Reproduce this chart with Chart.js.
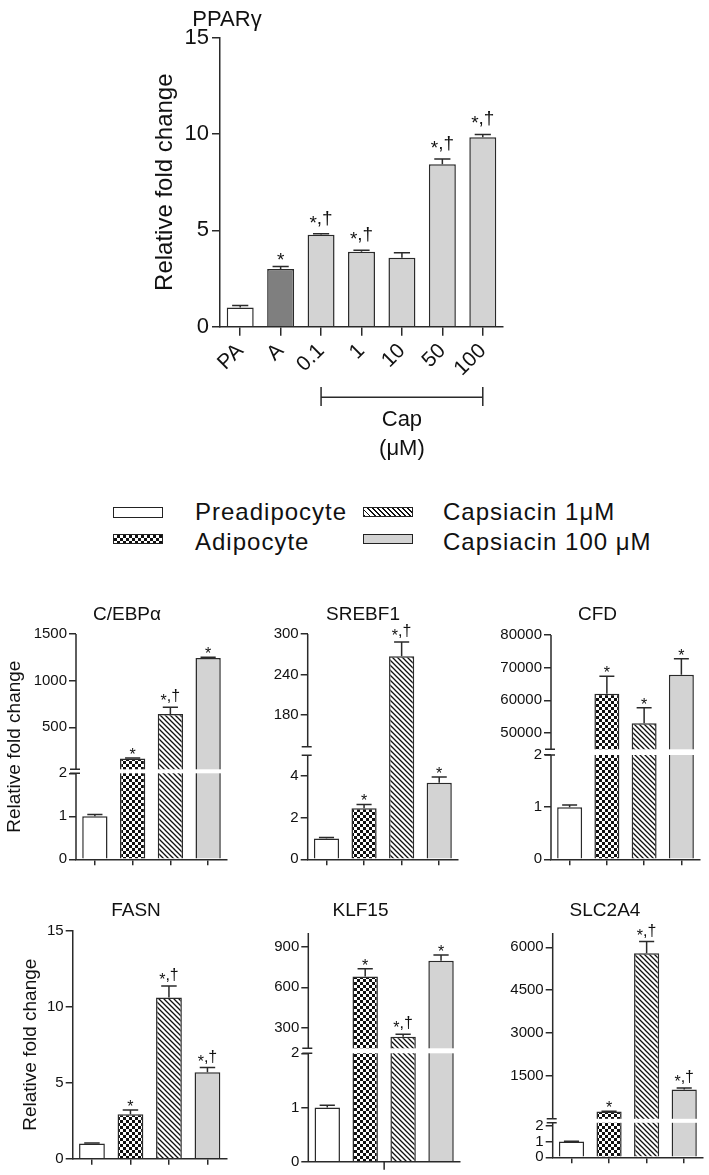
<!DOCTYPE html>
<html>
<head>
<meta charset="utf-8">
<script src="https://cdn.jsdelivr.net/npm/chart.js@4.4.1/dist/chart.umd.min.js"></script>
<style>
  body { margin: 0; background: #fff; font-family: "Liberation Sans", Arial, sans-serif; }
  #page { position: relative; width: 709px; height: 1175px; overflow: hidden; background: #fff; }
  canvas { position: absolute; }
  .key { position: absolute; width: 50px; border: 1.5px solid #222; box-sizing: border-box; }
  .keytext { position: absolute; font-size: 24px; line-height: 24px; letter-spacing: 1px; color: #111; white-space: nowrap; }
</style>
</head>
<body>
<div id="page">
  <div class="key" style="left:113px;top:507px;height:11px;background:#fff"></div>
  <div class="keytext" style="left:195px;top:500px">Preadipocyte</div>
  <div class="key" style="left:113px;top:534px;height:10px;background-color:#fff;background-image:repeating-conic-gradient(#111 0 25%, #fff 0 50%);background-size:6px 6px"></div>
  <div class="keytext" style="left:195px;top:530px">Adipocyte</div>
  <div class="key" style="left:363px;top:507px;height:10px;background:repeating-linear-gradient(45deg, #111 0 1.3px, #fff 1.3px 3.6px)"></div>
  <div class="keytext" style="left:443px;top:500px">Capsiacin 1μM</div>
  <div class="key" style="left:363px;top:534px;height:10px;background:#d3d3d3"></div>
  <div class="keytext" style="left:443px;top:530px">Capsiacin 100 μM</div>
</div>
<script>
// ---- PPARγ (top chart) ----
const pparLabels = ["PA", "A", "0.1", "1", "10", "50", "100"];
const pparMeans = [1.0, 3.0, 4.77, 3.89, 3.58, 8.43, 9.83];
const pparErrors = [0.1, 0.12, 0.05, 0.08, 0.26, 0.27, 0.15];
const pparMarks = ["", "*", "*,†", "*,†", "", "*,†", "*,†"];
const pparTicks = [0, 5, 10, 15];

// ---- six small panels ----
const groups = ["Preadipocyte", "Adipocyte", "Capsiacin 1μM", "Capsiacin 100 μM"];

const cebpaMeans = [1.0, 165, 643, 1243];
const cebpaErrors = [0.04, 5, 72, 7];
const cebpaMarks = ["", "*", "*,†", "*"];
const cebpaTicks = [0, 1, 2, 500, 1000, 1500];
const cebpaRange = [0, 2, 50, 1500]; // lower segment min/max, upper segment min/max

const srebf1Means = [1.0, 2.45, 267, 3.68];
const srebf1Errors = [0.05, 0.19, 21, 0.28];
const srebf1Marks = ["", "*", "*,†", "*"];
const srebf1Ticks = [0, 2, 4, 180, 240, 300];
const srebf1Range = [0, 5, 133, 300];

const cfdMeans = [1.0, 62000, 53000, 67800];
const cfdErrors = [0.04, 5400, 4700, 4900];
const cfdMarks = ["", "*", "*", "*"];
const cfdTicks = [0, 1, 2, 50000, 60000, 70000, 80000];
const cfdRange = [0, 2, 45000, 80000];

const fasnMeans = [1.0, 2.92, 10.6, 5.68];
const fasnErrors = [0.03, 0.28, 0.76, 0.32];
const fasnMarks = ["", "*", "*,†", "*,†"];
const fasnTicks = [0, 5, 10, 15];

const klf15Means = [1.0, 680, 235, 795];
const klf15Errors = [0.04, 57, 18, 42];
const klf15Marks = ["", "*", "*,†", "*"];
const klf15Ticks = [0, 1, 2, 300, 600, 900];
const klf15Range = [0, 2, 150, 1000];

const slc2a4Means = [1.0, 252, 5790, 1023];
const slc2a4Errors = [0.02, 10, 410, 57];
const slc2a4Marks = ["", "*", "*,†", "*,†"];
const slc2a4Ticks = [0, 1, 2, 1500, 3000, 4500, 6000];
const slc2a4Range = [0, 2.2, 0, 6500];

const FONT = '"Liberation Sans", Arial, sans-serif';
const ink = "#2a2a2a";
const page = document.getElementById("page");

// fill patterns for adipocyte (checker) and capsiacin 1uM (hatch)
function makePatterns() {
  const hatch = document.createElement("canvas");
  hatch.width = hatch.height = 5;
  let c = hatch.getContext("2d");
  c.fillStyle = "#fff";
  c.fillRect(0, 0, 5, 5);
  c.strokeStyle = "#111";
  c.lineWidth = 1.3;
  c.beginPath();
  for (const k of [-5, 0, 5]) {
    c.moveTo(k - 1, -1);
    c.lineTo(k + 6, 6);
  }
  c.stroke();
  const checker = document.createElement("canvas");
  checker.width = checker.height = 6;
  c = checker.getContext("2d");
  c.fillStyle = "#fff";
  c.fillRect(0, 0, 6, 6);
  c.fillStyle = "#111";
  c.fillRect(0, 0, 3, 3);
  c.fillRect(3, 3, 3, 3);
  const ctx = document.createElement("canvas").getContext("2d");
  return { hatch: ctx.createPattern(hatch, "repeat"), checker: ctx.createPattern(checker, "repeat") };
}
const pat = makePatterns();
const groupFill = ["#ffffff", pat.checker, pat.hatch, "#d3d3d3"];

// per-canvas settings: broken axis and decorations
const brk = {};
const deco = {};

// broken y axis: lower segment gets lowPx pixels, then a gap, upper segment the rest
class BrokenScale extends Chart.LinearScale {
  determineDataLimits() {
    const b = brk[this.chart.canvas.id];
    this.min = b.range[0];
    this.max = b.range[3];
  }
  buildTicks() {
    return brk[this.chart.canvas.id].ticks.map(v => ({ value: v }));
  }
  getPixelForValue(v) {
    const b = brk[this.chart.canvas.id];
    const [lo0, lo1, hi0, hi1] = b.range;
    if (v <= lo1) return this.bottom - (v - lo0) / (lo1 - lo0) * b.lowPx;
    const base = this.bottom - b.lowPx - b.gap;
    return base - (Math.max(v, hi0) - hi0) / (hi1 - hi0) * (base - this.top);
  }
}
BrokenScale.id = "broken";
BrokenScale.defaults = Chart.LinearScale.defaults;
Chart.register(BrokenScale);

function drawMark(ctx, text, x, errTop, m) {
  if (!text) return;
  ctx.font = m.size + "px " + FONT;
  ctx.fillStyle = "#111";
  ctx.textBaseline = "alphabetic";
  if (text === "*") {
    ctx.textAlign = "center";
    ctx.fillText("*", x, errTop + m.solo);
    return;
  }
  // star sits a bit lower, level with the middle of the dagger
  const w = ctx.measureText(text).width;
  const base = errTop - m.gap;
  let cx = x - w / 2;
  ctx.textAlign = "left";
  ctx.fillText("*", cx, base + m.drop);
  cx += ctx.measureText("*").width;
  ctx.fillText(text.slice(1), cx, base);
}

const extras = {
  id: "extras",
  afterDatasetsDraw(chart) {
    const ctx = chart.ctx;
    const ca = chart.chartArea;
    const y = chart.scales.y;
    const b = brk[chart.canvas.id];
    const d = deco[chart.canvas.id];
    ctx.save();
    ctx.strokeStyle = ink;
    ctx.lineWidth = 1.5;
    if (b) {
      const lowTop = ca.bottom - b.lowPx;
      const upBot = lowTop - b.gap;
      if (b.stripe) {
        ctx.fillStyle = "#fff";
        ctx.fillRect(ca.left + 1, upBot, ca.right - ca.left, b.gap);
      }
      ctx.beginPath();
      ctx.moveTo(ca.left, ca.bottom);
      ctx.lineTo(ca.left, lowTop);
      ctx.moveTo(ca.left, upBot);
      ctx.lineTo(ca.left, ca.top);
      ctx.moveTo(ca.left - 6, lowTop);
      ctx.lineTo(ca.left + 4, lowTop);
      ctx.moveTo(ca.left - 6, upBot);
      ctx.lineTo(ca.left + 4, upBot);
      ctx.stroke();
    }
    if (d.centerTick) {
      const cx = (ca.left + ca.right) / 2;
      ctx.beginPath();
      ctx.moveTo(cx, ca.bottom);
      ctx.lineTo(cx, ca.bottom + 8);
      ctx.stroke();
    }
    const ds = chart.data.datasets[0];
    chart.getDatasetMeta(0).data.forEach((bar, i) => {
      const top = y.getPixelForValue(ds.data[i] + ds.errors[i]);
      const half = bar.width * d.cap / 2;
      ctx.strokeStyle = ink;
      ctx.lineWidth = 1.5;
      ctx.beginPath();
      ctx.moveTo(bar.x, bar.y);
      ctx.lineTo(bar.x, top);
      ctx.moveTo(bar.x - half, top);
      ctx.lineTo(bar.x + half, top);
      ctx.stroke();
      drawMark(ctx, ds.marks[i], bar.x, top, d.mark);
    });
    ctx.font = d.titleSize + "px " + FONT;
    ctx.fillStyle = "#111";
    ctx.textAlign = "center";
    ctx.textBaseline = "alphabetic";
    ctx.fillText(d.title, d.titleX, d.titleY);
    ctx.restore();
  }
};

function addCanvas(id, box) {
  const cv = document.createElement("canvas");
  cv.id = id;
  cv.width = box[2];
  cv.height = box[3];
  cv.style.left = box[0] + "px";
  cv.style.top = box[1] + "px";
  page.appendChild(cv);
  return cv;
}

const common = { responsive: false, animation: false, events: [], devicePixelRatio: 1 };

// ---- top chart ----
(function () {
  const box = [100, 0, 440, 490];
  const area = [220, 37.7, 503, 326.7];
  const cv = addCanvas("ppar", box);
  deco.ppar = {
    cap: 0.6,
    mark: { size: 19, gap: 10, drop: 5, solo: -1 },
    title: "PPARγ", titleSize: 22, titleX: 227 - box[0], titleY: 26
  };
  const bracket = {
    id: "bracket",
    afterDraw(chart) {
      const ctx = chart.ctx;
      const xs = chart.scales.x;
      const x1 = xs.getPixelForValue(2);
      const x2 = xs.getPixelForValue(6);
      ctx.save();
      ctx.strokeStyle = ink;
      ctx.lineWidth = 1.5;
      ctx.beginPath();
      ctx.moveTo(x1, 397.3);
      ctx.lineTo(x2, 397.3);
      ctx.moveTo(x1, 387);
      ctx.lineTo(x1, 406);
      ctx.moveTo(x2, 387);
      ctx.lineTo(x2, 406);
      ctx.stroke();
      ctx.fillStyle = "#111";
      ctx.font = "22px " + FONT;
      ctx.textAlign = "center";
      ctx.fillText("Cap", (x1 + x2) / 2, 426);
      ctx.fillText("(μM)", (x1 + x2) / 2, 455);
      ctx.restore();
    }
  };
  new Chart(cv, {
    type: "bar",
    data: {
      labels: pparLabels,
      datasets: [{
        data: pparMeans, errors: pparErrors, marks: pparMarks,
        backgroundColor: ["#ffffff", "#7f7f7f", "#d3d3d3", "#d3d3d3", "#d3d3d3", "#d3d3d3", "#d3d3d3"],
        borderColor: ink, borderWidth: 1.5, barPercentage: 0.667, categoryPercentage: 1
      }]
    },
    options: {
      ...common,
      layout: { padding: { left: 51, top: area[1], right: box[2] - (area[2] - box[0]), bottom: 0 } },
      plugins: { legend: { display: false }, tooltip: { enabled: false } },
      scales: {
        x: {
          offset: true,
          grid: { display: true, drawOnChartArea: false, offset: false, tickLength: 9, color: ink, lineWidth: 1.5 },
          border: { display: true, color: ink, width: 1.5 },
          ticks: { color: "#111", font: { size: 21, family: FONT }, minRotation: 45, maxRotation: 45, padding: 3 },
          afterFit: s => { s.height = box[3] - area[3]; }
        },
        y: {
          min: 0, max: 15,
          grid: { drawOnChartArea: false, tickLength: 8, color: ink, lineWidth: 1.5 },
          border: { display: true, color: ink, width: 1.5 },
          ticks: { color: "#111", font: { size: 22, family: FONT }, padding: 3, autoSkip: false },
          afterBuildTicks: s => { s.ticks = pparTicks.map(v => ({ value: v })); },
          title: { display: true, text: "Relative fold change", color: "#111", font: { size: 24, family: FONT }, padding: 0 },
          afterFit: s => { s.width = area[0] - box[0] - 51; }
        }
      }
    },
    plugins: [extras, bracket]
  });
})();

// ---- small panels ----
const panels = [
  { id: "cebpa", title: "C/EBPα", means: cebpaMeans, errors: cebpaErrors, marks: cebpaMarks, ticks: cebpaTicks, range: cebpaRange,
    box: [0, 590, 240, 285], area: [76, 634, 227, 859.3], lowPx: 86, gap: 4, stripe: true, yTitleX: 15, titleAt: [127, 620] },
  { id: "srebf1", title: "SREBF1", means: srebf1Means, errors: srebf1Errors, marks: srebf1Marks, ticks: srebf1Ticks, range: srebf1Range,
    box: [240, 590, 230, 285], area: [307.7, 634, 458, 859.3], lowPx: 104, gap: 8.5, stripe: false, titleAt: [363, 620] },
  { id: "cfd", title: "CFD", means: cfdMeans, errors: cfdErrors, marks: cfdMarks, ticks: cfdTicks, range: cfdRange,
    box: [470, 590, 239, 285], area: [551, 635, 700, 859.3], lowPx: 104.3, gap: 5.7, stripe: true, titleAt: [597.5, 620] },
  { id: "fasn", title: "FASN", means: fasnMeans, errors: fasnErrors, marks: fasnMarks, ticks: fasnTicks, max: 15,
    box: [0, 880, 240, 295], area: [72.7, 930.7, 226.7, 1158.7], yTitleX: 31, titleAt: [136, 916] },
  { id: "klf15", title: "KLF15", means: klf15Means, errors: klf15Errors, marks: klf15Marks, ticks: klf15Ticks, range: klf15Range,
    box: [240, 880, 230, 295], area: [308.3, 933, 460, 1161.7], lowPx: 108.4, gap: 5, stripe: true, noXTicks: true, titleAt: [360.5, 916] },
  { id: "slc2a4", title: "SLC2A4", means: slc2a4Means, errors: slc2a4Errors, marks: slc2a4Marks, ticks: slc2a4Ticks, range: slc2a4Range,
    box: [470, 880, 239, 295], area: [552.7, 933, 703, 1157.3], lowPx: 34.5, gap: 4, stripe: true, titleAt: [605, 916] }
];

panels.forEach(p => {
  const [bx, by, bw, bh] = p.box;
  const [al, at, ar, ab] = p.area;
  const cv = addCanvas(p.id, p.box);
  if (p.range) brk[p.id] = { range: p.range, ticks: p.ticks, lowPx: p.lowPx, gap: p.gap, stripe: p.stripe };
  deco[p.id] = {
    cap: 0.6,
    mark: { size: 16, gap: 6, drop: 5, solo: 2 },
    centerTick: !!p.noXTicks,
    title: p.title, titleSize: 19, titleX: p.titleAt[0] - bx, titleY: p.titleAt[1] - by
  };
  const hasTitle = p.yTitleX != null;
  const padLeft = hasTitle ? p.yTitleX - bx - 11.4 : 0;
  const y = {
    type: p.range ? "broken" : "linear",
    grid: { drawOnChartArea: false, tickLength: 7, color: ink, lineWidth: 1.5 },
    border: { display: !p.range, color: ink, width: 1.5 },
    ticks: { color: "#111", font: { size: 15, family: FONT }, padding: 2, autoSkip: false, callback: v => String(v) },
    title: { display: hasTitle, text: "Relative fold change", color: "#111", font: { size: 19, family: FONT }, padding: 0 },
    afterFit: s => { s.width = al - bx - padLeft; }
  };
  if (!p.range) {
    y.min = 0;
    y.max = p.max;
    y.afterBuildTicks = s => { s.ticks = p.ticks.map(v => ({ value: v })); };
  }
  new Chart(cv, {
    type: "bar",
    data: {
      labels: groups,
      datasets: [{
        data: p.means, errors: p.errors, marks: p.marks,
        backgroundColor: groupFill, borderColor: ink, borderWidth: 1.5,
        barPercentage: 0.67, categoryPercentage: 1
      }]
    },
    options: {
      ...common,
      layout: { padding: { left: padLeft, top: at - by, right: bx + bw - ar, bottom: 0 } },
      plugins: { legend: { display: false }, tooltip: { enabled: false } },
      scales: {
        x: {
          offset: true,
          grid: { display: !p.noXTicks, drawOnChartArea: false, offset: false, tickLength: 6, color: ink, lineWidth: 1.5 },
          border: { display: true, color: ink, width: 1.5 },
          ticks: { display: false },
          afterFit: s => { s.height = by + bh - ab; }
        },
        y: y
      }
    },
    plugins: [extras]
  });
});
</script>
</body>
</html>
